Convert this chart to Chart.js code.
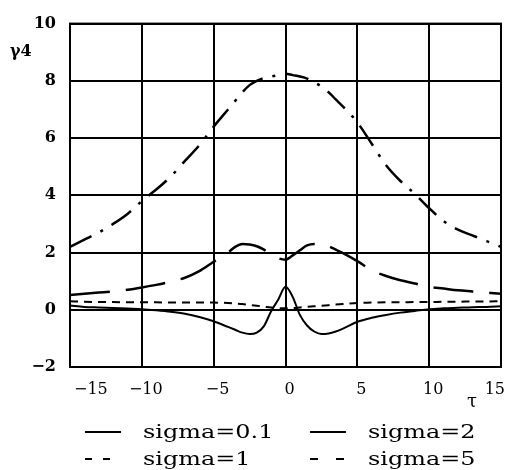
<!DOCTYPE html>
<html>
<head>
<meta charset="utf-8">
<script src="https://cdn.jsdelivr.net/npm/chart.js@4"></script>
<style>
  body { margin: 0; background: #fff; }
  canvas { display: block; }
</style>
</head>
<body>
<canvas id="gammaChart" width="514" height="470"></canvas>
<script>
// tau grid (finer near the centre)
const tau = [-15, -14, -13, -12, -11, -10, -9, -8, -7, -6, -5, -4, -3.5, -3, -2.5, -2, -1.5, -1, -0.5, 0,
             0.5, 1, 1.5, 2, 2.5, 3, 3.5, 4, 5, 6, 7, 8, 9, 10, 11, 12, 13, 14, 15];

const sigma01 = [0.15, 0.1, 0.08, 0.06, 0.04, 0.02, -0.02, -0.07, -0.14, -0.25, -0.4, -0.6, -0.7, -0.8, -0.85, -0.8, -0.57, -0.05, 0.36, 0.8,
                 0.45, -0.18, -0.55, -0.76, -0.85, -0.83, -0.76, -0.66, -0.42, -0.28, -0.18, -0.1, -0.04, 0.02, 0.05, 0.07, 0.09, 0.1, 0.12];

const sigma1 = [0.3, 0.28, 0.27, 0.27, 0.26, 0.26, 0.26, 0.25, 0.25, 0.25, 0.25, 0.24, 0.22, 0.2, 0.17, 0.14, 0.11, 0.08, 0.06, 0.05,
                0.06, 0.08, 0.1, 0.12, 0.14, 0.16, 0.18, 0.2, 0.24, 0.25, 0.26, 0.26, 0.27, 0.27, 0.28, 0.28, 0.29, 0.29, 0.3];

const sigma2 = [0.52, 0.56, 0.6, 0.64, 0.7, 0.78, 0.87, 0.98, 1.12, 1.35, 1.68, 2.0, 2.2, 2.3, 2.28, 2.22, 2.1, 1.92, 1.8, 1.75,
                1.9, 2.08, 2.25, 2.3, 2.3, 2.22, 2.1, 1.98, 1.7, 1.38, 1.18, 1.03, 0.92, 0.8, 0.74, 0.68, 0.64, 0.6, 0.56];

const sigma5 = [2.2, 2.45, 2.7, 3.0, 3.35, 3.8, 4.2, 4.65, 5.2, 5.75, 6.4, 7.0, 7.3, 7.6, 7.85, 8.0, 8.1, 8.15, 8.2, 8.25,
                8.2, 8.15, 8.08, 7.95, 7.8, 7.6, 7.35, 7.1, 6.55, 5.8, 5.05, 4.5, 4.05, 3.55, 3.1, 2.8, 2.6, 2.4, 2.2];

const legendItems = [
    { text: 'sigma=0.1', dash: [] },
    { text: 'sigma=2', dash: [] },
    { text: 'sigma=1', dash: [7, 11] },
    { text: 'sigma=5', dash: [8, 18] }
];

const serif = "'DejaVu Serif', 'Liberation Serif', serif";

function toPoints(ys) {
    return tau.map((t, i) => ({ x: t, y: ys[i] }));
}

function minusSign(v) {
    return String(v).replace('-', '\u2212');
}

// frame, axis names and the 2x2 legend under the plot
const extras = {
    id: 'extras',
    afterDraw(chart) {
        const ctx = chart.ctx;
        const area = chart.chartArea;
        ctx.save();
        ctx.strokeStyle = '#000';
        ctx.lineWidth = 2;
        ctx.strokeRect(area.left, area.top, area.right - area.left, area.bottom - area.top);

        ctx.fillStyle = '#000';
        ctx.textBaseline = 'middle';
        ctx.textAlign = 'left';
        ctx.font = 'bold 16px ' + serif;
        ctx.fillText('\u03b34', 10, 52);
        ctx.font = '18px ' + serif;
        ctx.fillText('\u03c4', 467, 402);

        const colX = [85, 310];
        const rowY = [432, 459];
        legendItems.forEach((item, i) => {
            const x = colX[i % 2];
            const y = rowY[Math.floor(i / 2)];
            ctx.lineWidth = 2;
            ctx.setLineDash(item.dash);
            ctx.beginPath();
            ctx.moveTo(x, y);
            ctx.lineTo(x + 36, y);
            ctx.stroke();
            ctx.setLineDash([]);
            ctx.save();
            ctx.translate(x + 58, y + 1);
            ctx.scale(1.33, 1);
            ctx.font = '18px ' + serif;
            ctx.fillText(item.text, 0, 0);
            ctx.restore();
        });
        ctx.restore();
    }
};

const ctx = document.getElementById('gammaChart').getContext('2d');
new Chart(ctx, {
    type: 'scatter',
    data: {
        datasets: [
            {
                label: 'sigma=0.1',
                data: toPoints(sigma01),
                borderColor: '#000',
                borderWidth: 2,
                showLine: true
            },
            {
                label: 'sigma=1',
                data: toPoints(sigma1),
                borderColor: '#000',
                borderWidth: 2,
                borderDash: [8, 6],
                showLine: true
            },
            {
                label: 'sigma=2',
                data: toPoints(sigma2),
                borderColor: '#000',
                borderWidth: 2.5,
                borderDash: [40, 16],
                showLine: true
            },
            {
                label: 'sigma=5',
                data: toPoints(sigma5),
                borderColor: '#000',
                borderWidth: 2.5,
                borderDash: [24, 10, 3, 10],
                showLine: true
            }
        ]
    },
    options: {
        responsive: false,
        animation: false,
        devicePixelRatio: 1,
        layout: { padding: { top: 15, right: 5, left: 0, bottom: 0 } },
        elements: {
            point: { radius: 0 },
            line: { cubicInterpolationMode: 'monotone' }
        },
        plugins: {
            legend: { display: false },
            tooltip: { enabled: false }
        },
        scales: {
            x: {
                type: 'linear',
                min: -15,
                max: 15,
                afterFit(scale) { scale.height = 103; },
                grid: { color: '#000', lineWidth: 2, drawTicks: false },
                border: { color: '#000', width: 2 },
                ticks: {
                    stepSize: 5,
                    color: '#000',
                    padding: 13,
                    align: 'inner',
                    labelOffset: 4,
                    maxRotation: 0,
                    font: { family: serif, size: 16 },
                    callback: minusSign
                }
            },
            y: {
                min: -2,
                max: 10,
                afterFit(scale) { scale.width = 70; },
                grid: { color: '#000', lineWidth: 2, drawTicks: false },
                border: { color: '#000', width: 2 },
                ticks: {
                    stepSize: 2,
                    color: '#000',
                    padding: 14,
                    font: { family: serif, size: 16, weight: 'bold' },
                    callback: minusSign
                }
            }
        }
    },
    plugins: [extras]
});
</script>
</body>
</html>
